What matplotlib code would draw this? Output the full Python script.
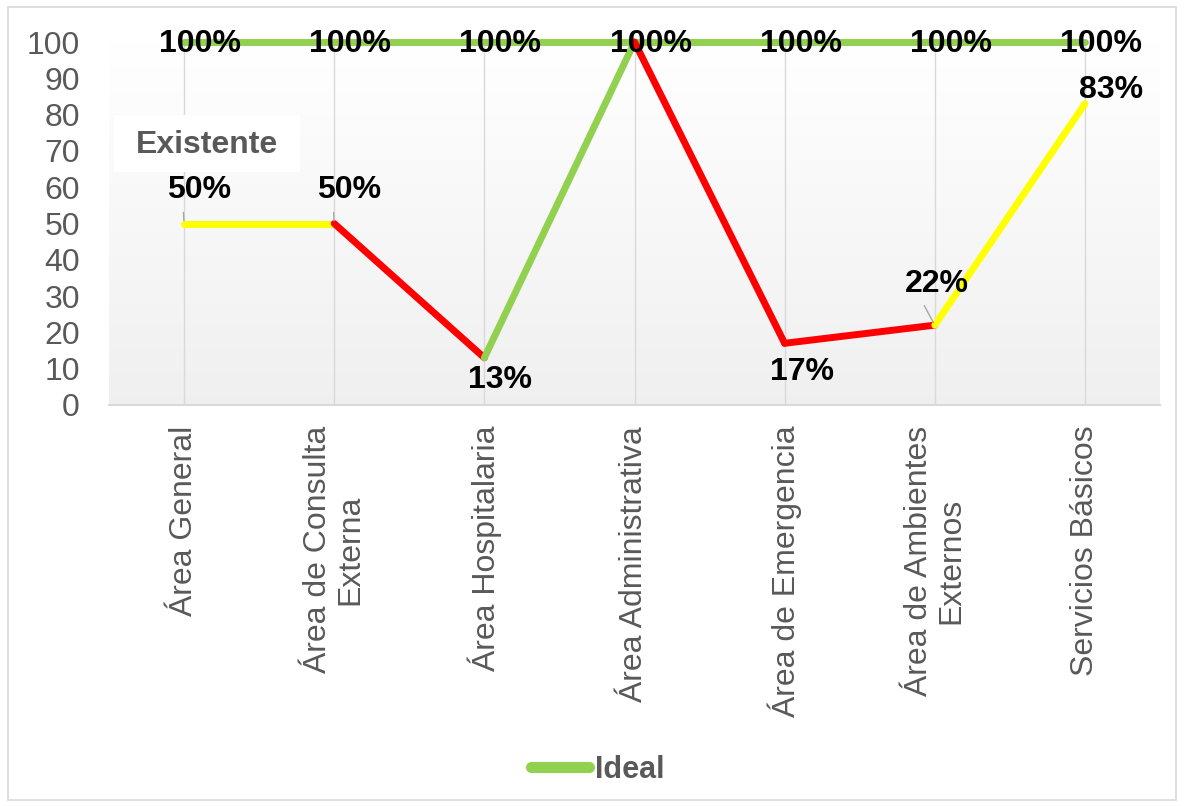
import numpy as np
import matplotlib
matplotlib.use("Agg")
import matplotlib.pyplot as plt
from matplotlib.lines import Line2D

categories = ["Área General", "Área de Consulta\nExterna", "Área Hospitalaria",
              "Área Administrativa", "Área de Emergencia", "Área de Ambientes\nExternos",
              "Servicios Básicos"]
existente = [50, 50, 13, 100, 17, 22, 83]
ideal = [100, 100, 100, 100, 100, 100, 100]
segment_colors = ["#ffff00", "#ff0000", "#92d050", "#ff0000", "#ff0000", "#ffff00"]
yticks = list(range(0, 101, 10))

GRAY = "#595959"
plt.rcParams['font.family'] = ['Liberation Sans', 'DejaVu Sans']

fig = plt.figure(figsize=(11.84, 8.06), dpi=100)
W, H = 1184, 806
# chart border
fig.patches.append(plt.Rectangle((8 / W, 6 / H), 1168 / W, 793 / H, transform=fig.transFigure,
                                 fill=False, edgecolor="#d9d9d9", linewidth=1.2))

ax = fig.add_axes([109 / W, (H - 405) / H, (1160 - 109) / W, (405 - 42) / H])
x = np.arange(len(categories))
ax.set_xlim(-0.5, len(categories) - 0.5)
ax.set_ylim(0, 100)

# gradient background
grad = np.linspace(1.0, 0.94, 256).reshape(-1, 1)
ax.imshow(np.dstack([grad, grad, grad]), extent=(-0.5, len(categories) - 0.5, 0, 100),
          aspect='auto', zorder=0, interpolation='bilinear')

for xi in x:
    ax.axvline(xi, color="#d9d9d9", linewidth=1.0, zorder=1)

for s in ["top", "right", "left"]:
    ax.spines[s].set_visible(False)
ax.spines["bottom"].set_color("#d9d9d9")
ax.spines["bottom"].set_linewidth(1.5)

ax.set_yticks(yticks)
ax.set_yticklabels([str(v) for v in yticks], fontsize=23, color=GRAY)
ax.tick_params(axis='y', length=0, pad=21)
ax.set_xticks(x)
ax.set_xticklabels(categories, rotation=90, fontsize=23, color=GRAY, va='top', ha='center',
                   multialignment='center', linespacing=1.1)
ax.tick_params(axis='x', length=0, pad=15)

LW = 5
# Ideal line
ax.plot(x, ideal, color="#92d050", linewidth=LW, solid_capstyle='round', zorder=3, clip_on=False)

# Existente, multicoloured segments
for i, c in enumerate(segment_colors):
    ax.plot(x[i:i + 2], existente[i:i + 2], color=c, linewidth=LW,
            solid_capstyle='round', zorder=4, clip_on=False)

# Ideal labels
for xi, v in zip(x, ideal):
    ax.annotate(f"{v}%", (xi, v), xytext=(16, -10), textcoords='offset pixels',
                ha='center', va='baseline', fontsize=23, fontweight='bold', color='black', zorder=6)

# Existente labels (offsets in pixels); index 3 overlaps the Ideal label
ex_offsets = [(15, 25), (15, 25), (16, -30), None, (17, -37), (2, 33), (26, 6)]
leader = [True, True, False, False, False, True, False]
for xi, v, off, ld in zip(x, existente, ex_offsets, leader):
    if off is None:
        continue
    kw = {}
    if ld:
        kw['arrowprops'] = dict(arrowstyle='-', color='#a6a6a6', lw=1.0, shrinkA=3, shrinkB=2,
                                relpos=(0.25, 0.0))
    ax.annotate(f"{v}%", (xi, v), xytext=off, textcoords='offset pixels',
                ha='center', va='baseline', fontsize=23, fontweight='bold', color='black',
                zorder=6, **kw)

# Series name label
fig.patches.append(plt.Rectangle((114 / W, (H - 172) / H), 186 / W, 57 / H,
                                 transform=fig.transFigure, facecolor='white',
                                 edgecolor='none', zorder=5))
fig.text(207 / W, (H - 145) / H, "Existente", ha='center', va='center', fontsize=23,
         fontweight='bold', color=GRAY, zorder=6)

# Legend
handle = Line2D([0], [0], color="#92d050", linewidth=8, solid_capstyle='round')
fig.legend([handle], ["Ideal"], loc='center', bbox_to_anchor=(598 / W, (H - 770) / H),
           frameon=False, handlelength=1.9, handletextpad=0.2,
           prop={'size': 22, 'weight': 'bold'}, labelcolor=GRAY)

fig.savefig("out.png", dpi=100)
